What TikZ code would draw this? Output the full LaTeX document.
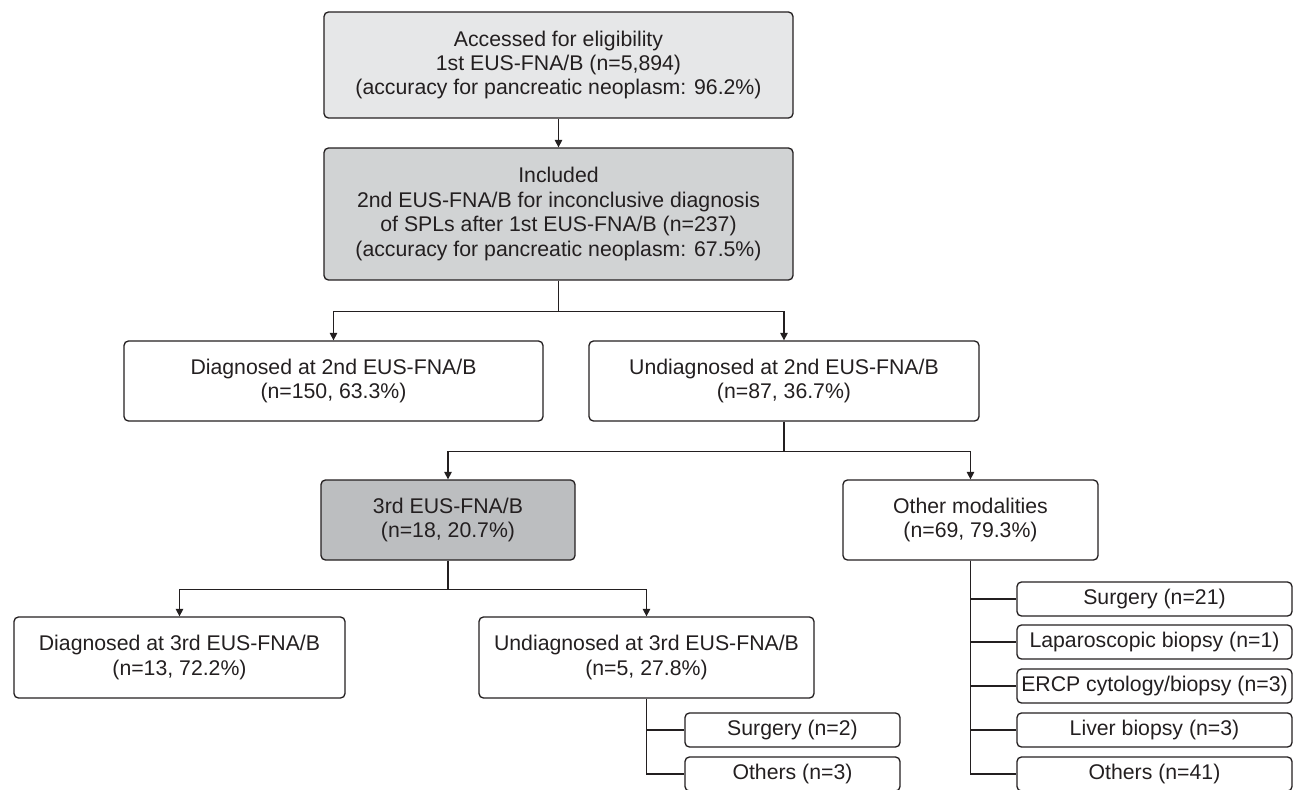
\documentclass[tikz,border=0pt]{standalone}
\usepackage{fontspec}
\setmainfont{Liberation Sans}
\usetikzlibrary{arrows.meta}
\definecolor{lite}{HTML}{E6E7E8}
\definecolor{mid}{HTML}{D1D3D4}
\definecolor{dark}{HTML}{BCBEC0}
\definecolor{ink}{HTML}{231F20}
\tikzset{
box/.style={draw=ink, line width=0.75pt, rounded corners=2.5pt, align=center, inner sep=2pt, text=ink, font=\fontsize{12.1}{13.9}\selectfont},
arr/.style={-{Triangle[length=4.3pt,width=4.3pt]}},
}
\begin{document}
\begin{tikzpicture}[x=0.02cm, y=-0.02cm, line width=0.75pt, draw=ink]
\useasboundingbox (0,0) rectangle (1296,789);
\clip (0,0) rectangle (1296,789);

\node [box, fill=lite, minimum width=9.38cm, minimum height=2.12cm] (acc) at (558.5,65)
	{Accessed for eligibility\\1st EUS-FNA/B (n=5,894)\\(accuracy for pancreatic neoplasm: 96.2\%)};
\node [box, fill=mid, minimum width=9.38cm, minimum height=2.64cm] (incl) at (558.5,214)
	{Included\\2nd EUS-FNA/B for inconclusive diagnosis\\of SPLs after 1st EUS-FNA/B (n=237)\\(accuracy for pancreatic neoplasm: 67.5\%)};
\node [box, minimum width=8.38cm, minimum height=1.6cm] (diag2) at (333.5,381)
	{Diagnosed at 2nd EUS-FNA/B\\(n=150, 63.3\%)};
\node [box, minimum width=7.8cm, minimum height=1.6cm] (undiag2) at (784,381)
	{Undiagnosed at 2nd EUS-FNA/B\\(n=87, 36.7\%)};
\node [box, fill=dark, minimum width=5.08cm, minimum height=1.6cm] (third) at (448,520)
	{3rd EUS-FNA/B\\(n=18, 20.7\%)};
\node [box, minimum width=5.1cm, minimum height=1.6cm] (other) at (970.5,520)
	{Other modalities\\(n=69, 79.3\%)};
\node [box, minimum width=6.62cm, minimum height=1.62cm] (diag3) at (179.5,657.5)
	{Diagnosed at 3rd EUS-FNA/B\\(n=13, 72.2\%)};
\node [box, minimum width=6.7cm, minimum height=1.62cm] (undiag3) at (646.5,657.5)
	{Undiagnosed at 3rd EUS-FNA/B\\(n=5, 27.8\%)};

\node [box, minimum width=4.3cm, minimum height=0.68cm] (surg3) at (792.5,730) {Surgery (n=2)};
\node [box, minimum width=4.3cm, minimum height=0.68cm] (oth3) at (792.5,774) {Others (n=3)};

\node [box, minimum width=5.5cm, minimum height=0.68cm] (surg) at (1154.5,599) {Surgery (n=21)};
\node [box, minimum width=5.5cm, minimum height=0.68cm] (lap) at (1154.5,642) {Laparoscopic biopsy (n=1)};
\node [box, minimum width=5.5cm, minimum height=0.68cm] (ercp) at (1154.5,686) {ERCP cytology/biopsy (n=3)};
\node [box, minimum width=5.5cm, minimum height=0.68cm] (liver) at (1154.5,730) {Liver biopsy (n=3)};
\node [box, minimum width=5.5cm, minimum height=0.68cm] (oth) at (1154.5,774) {Others (n=41)};

\draw [arr] (acc) -- (incl);
\draw [arr] (incl.south) -- ++(0,31) -| (diag2.north);
\draw [arr] (incl.south) -- ++(0,31) -| (undiag2.north);
\draw [arr] (undiag2.south) -- ++(0,30) -| (third.north);
\draw [arr] (undiag2.south) -- ++(0,30) -| (other.north);
\draw [arr] (third.south) -- ++(0,29) -| (diag3.north);
\draw [arr] (third.south) -- ++(0,29) -| (undiag3.north);

\draw (undiag3.south) |- (surg3.west);
\draw (undiag3.south) |- (oth3.west);

\draw (other.south) |- (surg.west);
\draw (other.south) |- (lap.west);
\draw (other.south) |- (ercp.west);
\draw (other.south) |- (liver.west);
\draw (other.south) |- (oth.west);
\end{tikzpicture}
\end{document}
